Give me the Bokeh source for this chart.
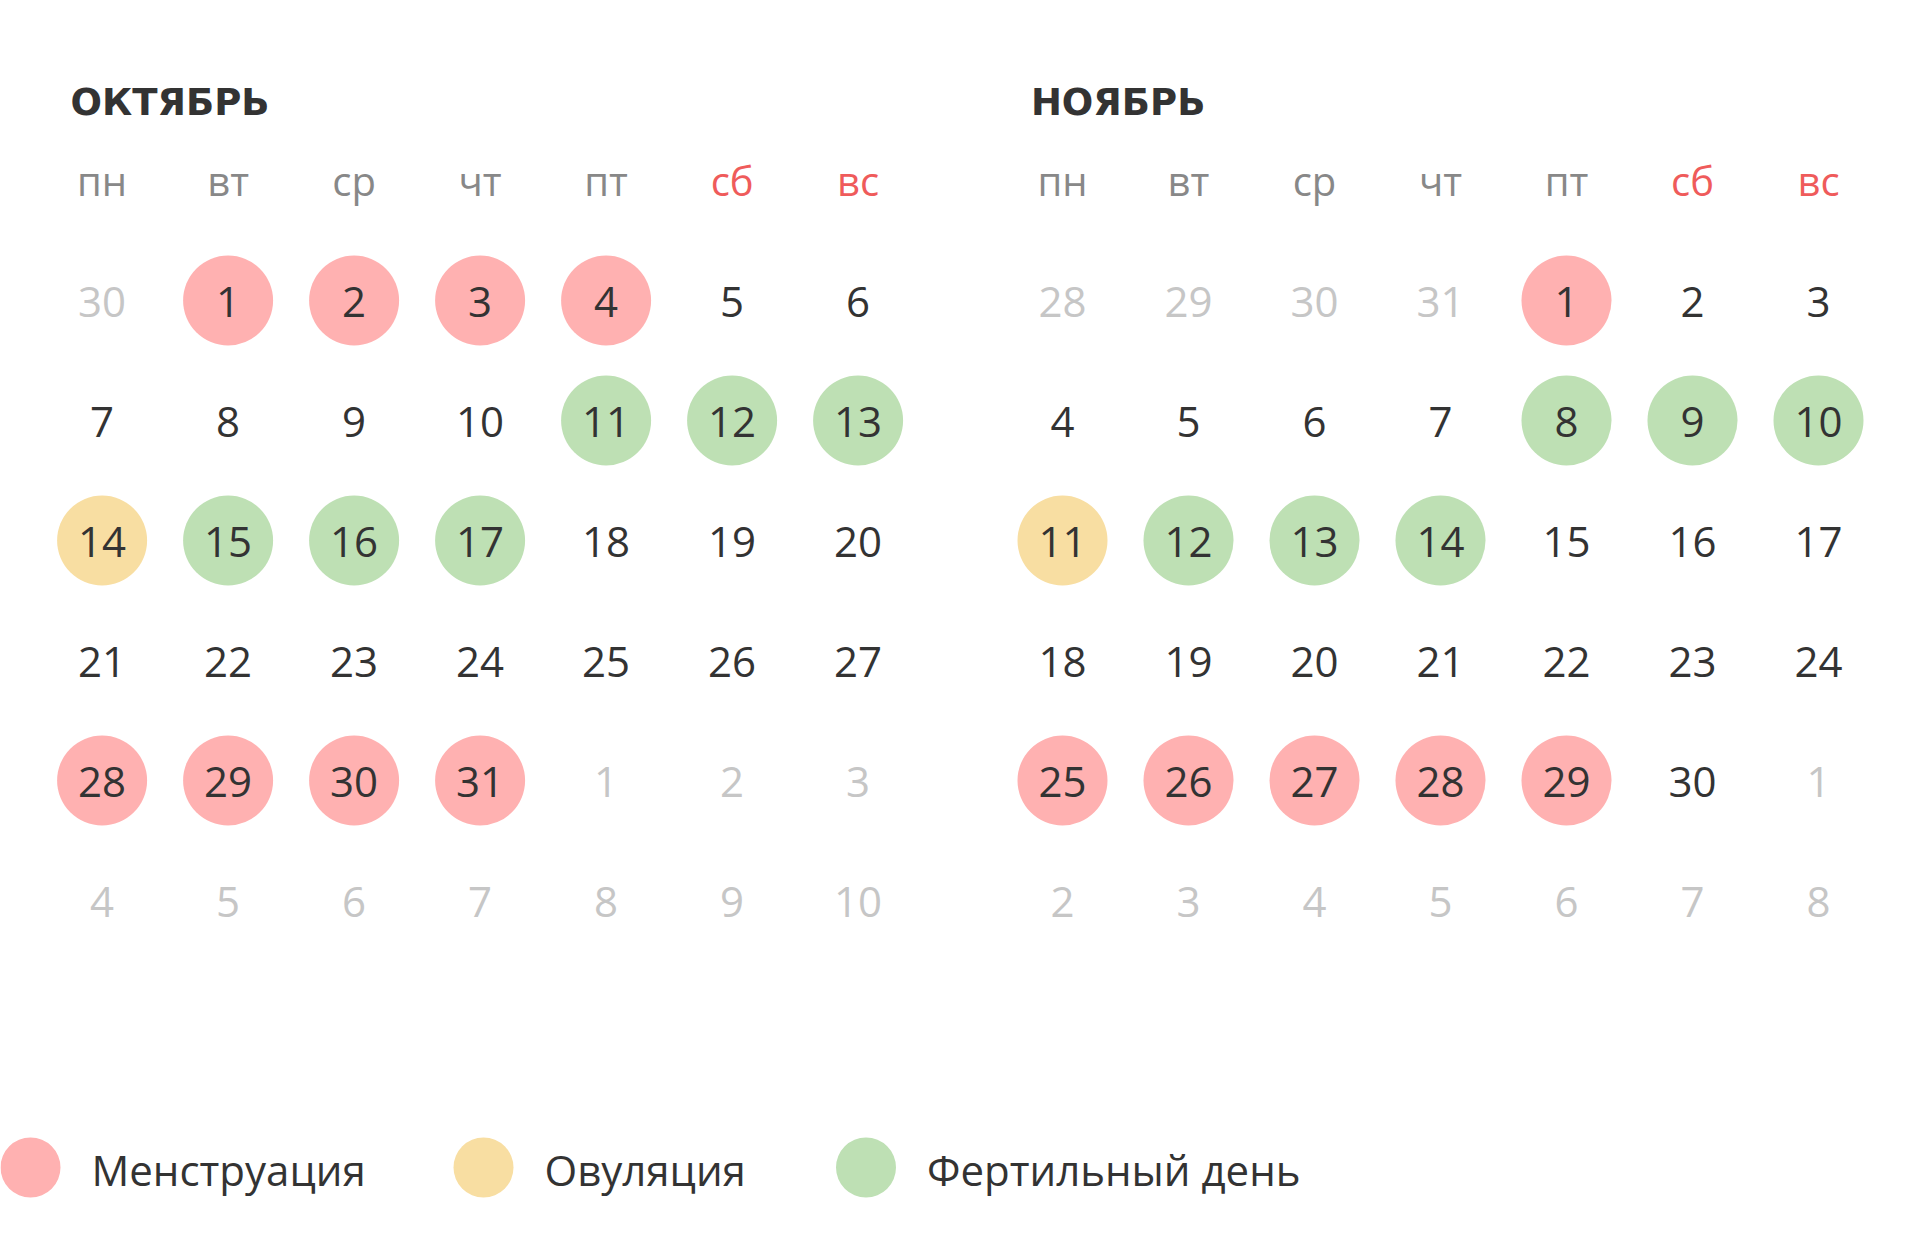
from bokeh.plotting import figure
from bokeh.models import Range1d
from bokeh.core.properties import value
from bokeh.embed import file_html
from bokeh.resources import INLINE

# calendar data
weekdays = ["пн", "вт", "ср", "чт", "пт", "сб", "вс"]
weekend = [False, False, False, False, False, True, True]
months = ["ОКТЯБРЬ", "НОЯБРЬ"]
lead_days = [[30], [28, 29, 30, 31]]
month_len = [31, 30]
trail_days = [[1, 2, 3, 4, 5, 6, 7, 8, 9, 10], [1, 2, 3, 4, 5, 6, 7, 8]]
menstruation = [[1, 2, 3, 4, 28, 29, 30, 31], [1, 25, 26, 27, 28, 29]]
ovulation = [[14], [11]]
fertile = [[11, 12, 13, 15, 16, 17], [8, 9, 10, 12, 13, 14]]
legend_labels = ["Менструация", "Овуляция", "Фертильный день"]

PINK = "#ffb1b1"
YELLOW = "#f8dea2"
GREEN = "#bee0b4"
DARK = "#333333"
LIGHT = "#c6c6c6"
GRAY = "#888888"
RED = "#ef5b5b"
FONT = value("Open Sans")

# layout (pixels)
X0 = [101.6, 1062]
DX = 126
Y_ROW0 = 300
DY = 120
Y_HEAD = 180
Y_TITLE = 101.5
TITLE_SHIFT = -31.6
LEG_X = [30, 483, 865.5]
LEG_Y = 1167

W, H = 1904, 1223
p = figure(width=W, height=H, output_backend="svg", toolbar_location=None,
           x_range=Range1d(0, W), y_range=Range1d(H, 0),
           min_border=0, outline_line_color=None)
p.axis.visible = False
p.grid.visible = False

for m in range(2):
    cols = [X0[m] + DX * i for i in range(7)]
    # title
    p.text(x=[X0[m] + TITLE_SHIFT], y=[Y_TITLE], text=[months[m]],
           text_font=value("DejaVu Sans"), text_font_style="bold",
           text_font_size="37px", text_color=DARK,
           text_align="left", text_baseline="middle")
    # weekday header
    p.text(x=cols, y=[Y_HEAD] * 7, text=weekdays, text_font=FONT,
           text_font_size="40px",
           text_color=[RED if w else GRAY for w in weekend],
           text_align="center", text_baseline="middle")
    # cells
    cells = [(d, LIGHT) for d in lead_days[m]]
    cells += [(d, DARK) for d in range(1, month_len[m] + 1)]
    cells += [(d, LIGHT) for d in trail_days[m]]
    xs, ys, labels, colors = [], [], [], []
    cx, cy, cc = [], [], []
    for k, (d, col) in enumerate(cells):
        x = cols[k % 7]
        y = Y_ROW0 + DY * (k // 7)
        xs.append(x)
        ys.append(y)
        labels.append(str(d))
        colors.append(col)
        if col == DARK:
            fill = None
            if d in menstruation[m]:
                fill = PINK
            elif d in ovulation[m]:
                fill = YELLOW
            elif d in fertile[m]:
                fill = GREEN
            if fill:
                cx.append(x)
                cy.append(y)
                cc.append(fill)
    p.scatter(x=cx, y=cy, size=90, fill_color=cc, line_color=None)
    p.text(x=xs, y=[y + 1 for y in ys], text=labels, text_font=FONT,
           text_font_size="42px", text_color=colors,
           text_align="center", text_baseline="middle")

# legend
leg_colors = [PINK, YELLOW, GREEN]
p.scatter(x=LEG_X, y=[LEG_Y] * 3, size=60, fill_color=leg_colors, line_color=None)
p.text(x=[x + 61 for x in LEG_X], y=[LEG_Y + 2] * 3, text=legend_labels,
       text_font=FONT, text_font_size="42px", text_color=DARK,
       text_align="left", text_baseline="middle")

open("out.html", "w").write(file_html(p, INLINE))
